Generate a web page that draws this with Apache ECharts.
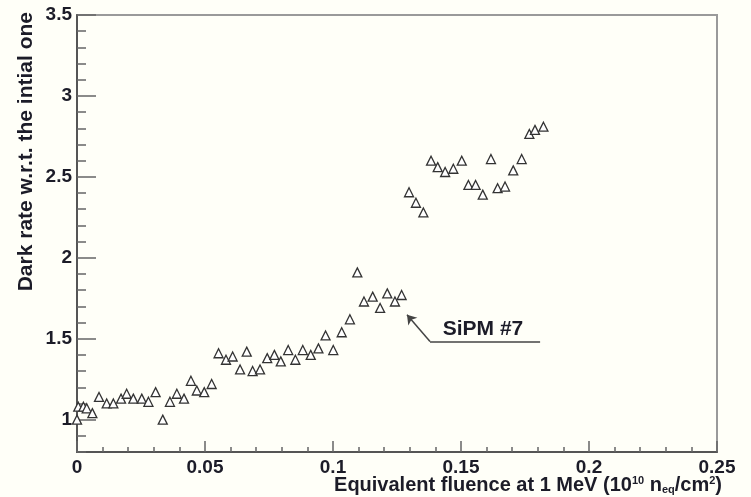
<!DOCTYPE html>
<html>
<head>
<meta charset="utf-8">
<script src="https://cdn.jsdelivr.net/npm/echarts@6/dist/echarts.min.js"></script>
<style>
html,body{margin:0;padding:0;background:#fffff8;}
#c{width:751px;height:497px;}
</style>
</head>
<body>
<div id="c"></div>
<script>
// Data
const fluence = [0, 0.0005, 0.0025, 0.0038, 0.006, 0.0086, 0.0116, 0.0142, 0.0172, 0.0194, 0.022, 0.0253, 0.0279, 0.0307, 0.0335, 0.0363, 0.039, 0.0418, 0.0445, 0.0468, 0.0497, 0.0526, 0.0553, 0.0582, 0.0608, 0.0637, 0.0663, 0.0686, 0.0715, 0.0743, 0.0771, 0.0796, 0.0825, 0.0853, 0.0882, 0.0913, 0.0943, 0.0971, 0.1001, 0.1034, 0.1066, 0.1095, 0.1121, 0.1155, 0.1184, 0.1212, 0.1242, 0.1268, 0.1297, 0.1324, 0.1353, 0.1383, 0.1409, 0.1438, 0.147, 0.1503, 0.1529, 0.1557, 0.1585, 0.1617, 0.1643, 0.1672, 0.1704, 0.1737, 0.1767, 0.1789, 0.1822];
const darkRate = [1.00, 1.08, 1.08, 1.07, 1.04, 1.14, 1.10, 1.10, 1.13, 1.16, 1.13, 1.13, 1.11, 1.17, 1.00, 1.11, 1.16, 1.13, 1.24, 1.18, 1.17, 1.22, 1.41, 1.37, 1.39, 1.31, 1.42, 1.30, 1.31, 1.38, 1.40, 1.36, 1.43, 1.37, 1.43, 1.40, 1.44, 1.52, 1.43, 1.54, 1.62, 1.91, 1.73, 1.76, 1.69, 1.78, 1.73, 1.77, 2.405, 2.34, 2.28, 2.60, 2.56, 2.53, 2.55, 2.60, 2.45, 2.45, 2.39, 2.61, 2.43, 2.44, 2.54, 2.61, 2.765, 2.79, 2.81];
const yMajorTicks = [1, 1.5, 2, 2.5, 3, 3.5];
const xTickLabels = ['0', '0.05', '0.1', '0.15', '0.2', '0.25'];
const seriesName = 'SiPM #7';
const annotationLine = [[0.1809, 1.483], [0.1379, 1.483], [0.1289, 1.648]];
const annotationText = [0.1586, 1.556];

const txt = '#1c1c28';
const fontFam = '"Liberation Sans", Arial, Helvetica, sans-serif';

const chart = echarts.init(document.getElementById('c'), null, {renderer: 'canvas'});
chart.setOption({
  backgroundColor: '#fffff8',
  animation: false,
  grid: {left: 77, right: 34, top: 15, bottom: 45, outerBoundsMode: 'none', containLabel: false,
    show: true, borderColor: '#9a9a9a', borderWidth: 2, backgroundColor: 'transparent'},
  xAxis: [{
    type: 'value', min: 0, max: 0.25, interval: 0.05,
    axisLine: {show: true, onZero: false, lineStyle: {color: '#555', width: 2}},
    axisTick: {show: true, inside: true, length: 11, lineStyle: {color: '#666', width: 1.5}},
    minorTick: {show: true, splitNumber: 5, length: 5, lineStyle: {color: '#666', width: 1.5}},
    splitLine: {show: false},
    axisLabel: {color: txt, fontSize: 19, fontWeight: 'bold', fontFamily: fontFam, margin: 6,
      formatter: function (v) { const i = Math.round(v / 0.05); return xTickLabels[i] !== undefined ? xTickLabels[i] : ''; }}
  }],
  yAxis: [{
    type: 'value', min: 0.8, max: 3.5, interval: 0.1,
    axisLine: {show: true, onZero: false, lineStyle: {color: '#555', width: 2}},
    axisTick: {show: true, inside: true, length: 9, lineStyle: {color: '#666', width: 1.5}},
    axisLabel: {show: false},
    splitLine: {show: false}
  }, {
    type: 'value', min: 0.8, max: 3.5, position: 'left',
    axisLine: {show: false},
    axisTick: {show: true, inside: true, length: 19, customValues: yMajorTicks, lineStyle: {color: '#666', width: 1.5}},
    axisLabel: {color: txt, fontSize: 19, fontWeight: 'bold', fontFamily: fontFam, margin: 5, customValues: yMajorTicks,
      formatter: function (v) { return String(v); }},
    splitLine: {show: false}
  }],
  graphic: [{
    type: 'text', x: 26, y: 12, rotation: Math.PI / 2,
    style: {text: 'Dark rate w.r.t. the intial one', align: 'right', verticalAlign: 'middle',
      fill: txt, font: 'bold 21px ' + fontFam}
  }, {
    type: 'text', x: 722, y: 485,
    style: {
      text: '{a|Equivalent fluence at 1 MeV (10}{s|10}{a| n}{b|eq}{a|/cm}{s|2}{a|)}',
      align: 'right', verticalAlign: 'middle',
      rich: {
        a: {fill: txt, fontSize: 20, fontWeight: 'bold', fontFamily: fontFam},
        s: {fill: txt, fontSize: 11, fontWeight: 'bold', fontFamily: fontFam, verticalAlign: 'top', padding: [0, 0, 9, 0]},
        b: {fill: txt, fontSize: 11, fontWeight: 'bold', fontFamily: fontFam, verticalAlign: 'bottom', padding: [7, 0, 0, 0]}
      }
    }
  }],
  series: [{
    name: seriesName,
    type: 'scatter',
    xAxisIndex: 0, yAxisIndex: 0,
    symbol: 'triangle', symbolSize: 9,
    itemStyle: {color: '#ffffff', borderColor: '#333', borderWidth: 1.3, opacity: 1},
    data: fluence.map((x, i) => [x, darkRate[i]]),
    markLine: {
      silent: true, animation: false,
      label: {show: false},
      lineStyle: {color: '#444', width: 1.5, type: 'solid'},
      data: [
        [{coord: annotationLine[0], symbol: 'none'}, {coord: annotationLine[1], symbol: 'none'}],
        [{coord: annotationLine[1], symbol: 'none'}, {coord: annotationLine[2], symbol: 'arrow', symbolSize: 9, itemStyle: {color: '#5a1f28'}}]
      ]
    },
    markPoint: {
      silent: true, symbol: 'circle', symbolSize: 0,
      data: [{coord: annotationText, value: seriesName}],
      label: {show: true, position: 'inside', formatter: seriesName, color: txt, fontSize: 21, fontWeight: 'bold', fontFamily: fontFam}
    }
  }]
});
</script>
</body>
</html>
